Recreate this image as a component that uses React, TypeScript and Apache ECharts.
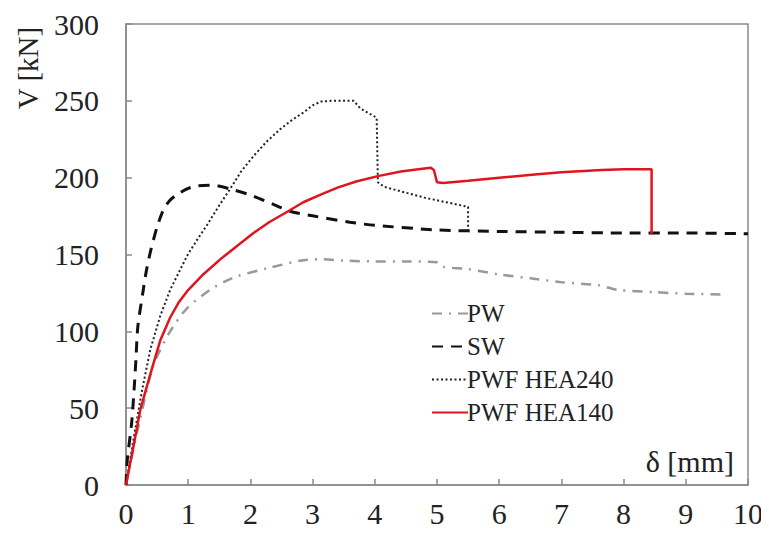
import React, { useEffect, useRef } from "react";
import * as echarts from "echarts";

const xTicks = [0, 1, 2, 3, 4, 5, 6, 7, 8, 9, 10];
const yTicks = [0, 50, 100, 150, 200, 250, 300];

const seriesNames = ["PW", "SW", "PWF HEA240", "PWF HEA140"];

const pwData: [number, number][] = [
  [0, 0], [0.1, 20], [0.25, 47], [0.44, 78], [0.71, 100], [0.98, 115], [1.35, 127],
  [1.57, 132], [1.8, 136], [2.27, 141], [2.8, 146], [3.1, 147], [3.5, 146], [4.0, 145.5],
  [4.5, 145.5], [5.0, 145], [5.1, 142], [5.5, 140.5], [6.0, 137], [6.5, 134.5],
  [7.0, 132], [7.6, 130], [7.9, 127], [8.5, 125.5], [9.0, 124.5], [9.58, 124],
];

const swData: [number, number][] = [
  [0, 0], [0.02, 16], [0.09, 40], [0.13, 62], [0.16, 82], [0.19, 103], [0.27, 125],
  [0.33, 140], [0.4, 153], [0.5, 168], [0.6, 179], [0.7, 185], [0.82, 189], [1.0, 193],
  [1.14, 194.6], [1.4, 195], [1.73, 192], [2.05, 188], [2.37, 182.6], [2.65, 178],
  [3.02, 175], [3.6, 171], [4.0, 169], [5, 166], [6, 165], [7, 164.5], [8, 164],
  [9, 164], [10, 163.5],
];

const hea240Data: [number, number][] = [
  [0, 0], [0.13, 32], [0.26, 62], [0.39, 88], [0.55, 110], [0.71, 127], [0.87, 140],
  [0.98, 149], [1.15, 160], [1.3, 169], [1.5, 182], [1.68, 193], [1.85, 204],
  [2.05, 214], [2.25, 223], [2.48, 231.6], [2.65, 237], [2.86, 242.6], [3.0, 247],
  [3.13, 249.5], [3.3, 250], [3.66, 250], [3.77, 245], [4.03, 239], [4.05, 197],
  [4.15, 194], [4.8, 187], [5.5, 181], [5.5, 164],
];

const hea140Data: [number, number][] = [
  [0, 0], [0.12, 25], [0.23, 49], [0.39, 72], [0.55, 94], [0.71, 109], [0.85, 119],
  [0.98, 126], [1.24, 137], [1.52, 147], [1.8, 156], [2.05, 164], [2.3, 171],
  [2.6, 178], [2.85, 184], [3.13, 189], [3.4, 193.5], [3.7, 197.5], [4.05, 201],
  [4.42, 204], [4.7, 205.5], [4.9, 206.5], [4.95, 205], [5.0, 197], [5.1, 196.5],
  [5.5, 198], [6.0, 200], [6.57, 202], [7.0, 203.5], [7.65, 205], [8.0, 205.5],
  [8.45, 205.5], [8.45, 163],
];

const FONT = "Liberation Serif";

export default function App() {
  const ref = useRef<HTMLDivElement>(null);
  useEffect(() => {
    if (!ref.current) return;
    const chart = echarts.init(ref.current, undefined, { renderer: "svg" });
    const axisColor = "#8a8a8a";
    chart.setOption({
      animation: false,
      backgroundColor: "#ffffff",
      grid: {
        left: 126,
        right: 21,
        top: 24,
        bottom: 52,
        show: true,
        borderColor: axisColor,
        borderWidth: 1.5,
      },
      xAxis: {
        type: "value",
        min: xTicks[0],
        max: xTicks[xTicks.length - 1],
        interval: 1,
        axisLine: { show: true, lineStyle: { color: axisColor, width: 1.5 } },
        axisTick: { show: true, inside: true, length: 6, lineStyle: { color: axisColor, width: 1.5 } },
        splitLine: { show: false },
        axisLabel: { fontFamily: FONT, fontSize: 30, color: "#222", margin: 13 },
      },
      yAxis: {
        type: "value",
        min: yTicks[0],
        max: yTicks[yTicks.length - 1],
        interval: 50,
        axisLine: { show: true, lineStyle: { color: axisColor, width: 1.5 } },
        axisTick: { show: true, inside: true, length: 6, lineStyle: { color: axisColor, width: 1.5 } },
        splitLine: { show: false },
        axisLabel: { fontFamily: FONT, fontSize: 30, color: "#222", margin: 27 },
      },
      legend: {
        orient: "vertical",
        left: 426,
        top: 296,
        itemWidth: 36,
        itemHeight: 14,
        itemGap: 8,
        data: seriesNames,
        itemStyle: { opacity: 0 },
        textStyle: { fontFamily: FONT, fontSize: 25, color: "#222", padding: [0, 0, 0, -6] },
      },
      graphic: [
        {
          type: "text",
          x: 28,
          y: 68,
          rotation: Math.PI / 2,
          style: {
            text: "V [kN]",
            fontFamily: FONT,
            fontSize: 29,
            fill: "#222",
            align: "center",
            verticalAlign: "middle",
          },
        },
        {
          type: "text",
          x: 734,
          y: 461,
          style: {
            text: "δ [mm]",
            fontFamily: FONT,
            fontSize: 30,
            fill: "#222",
            align: "right",
            verticalAlign: "middle",
          },
        },
      ],
      series: [
        {
          name: seriesNames[0],
          type: "line",
          data: pwData,
          symbol: "none",
          smooth: 0.25,
          lineStyle: { color: "#999999", width: 2.5, type: [10, 7, 2, 7] },
          itemStyle: { color: "#999999" },
        },
        {
          name: seriesNames[1],
          type: "line",
          data: swData,
          symbol: "none",
          smooth: 0.25,
          lineStyle: { color: "#111111", width: 3, type: [11, 8] },
          itemStyle: { color: "#111111" },
        },
        {
          name: seriesNames[2],
          type: "line",
          data: hea240Data,
          symbol: "none",
          lineStyle: { color: "#222222", width: 2, type: [2, 2.5] },
          itemStyle: { color: "#222222" },
        },
        {
          name: seriesNames[3],
          type: "line",
          data: hea140Data,
          symbol: "none",
          lineStyle: { color: "#e0141e", width: 2.5, type: "solid" },
          itemStyle: { color: "#e0141e" },
        },
      ],
    });
    return () => chart.dispose();
  }, []);
  return <div ref={ref} style={{ width: 769, height: 537, margin: -8 }} />;
}
